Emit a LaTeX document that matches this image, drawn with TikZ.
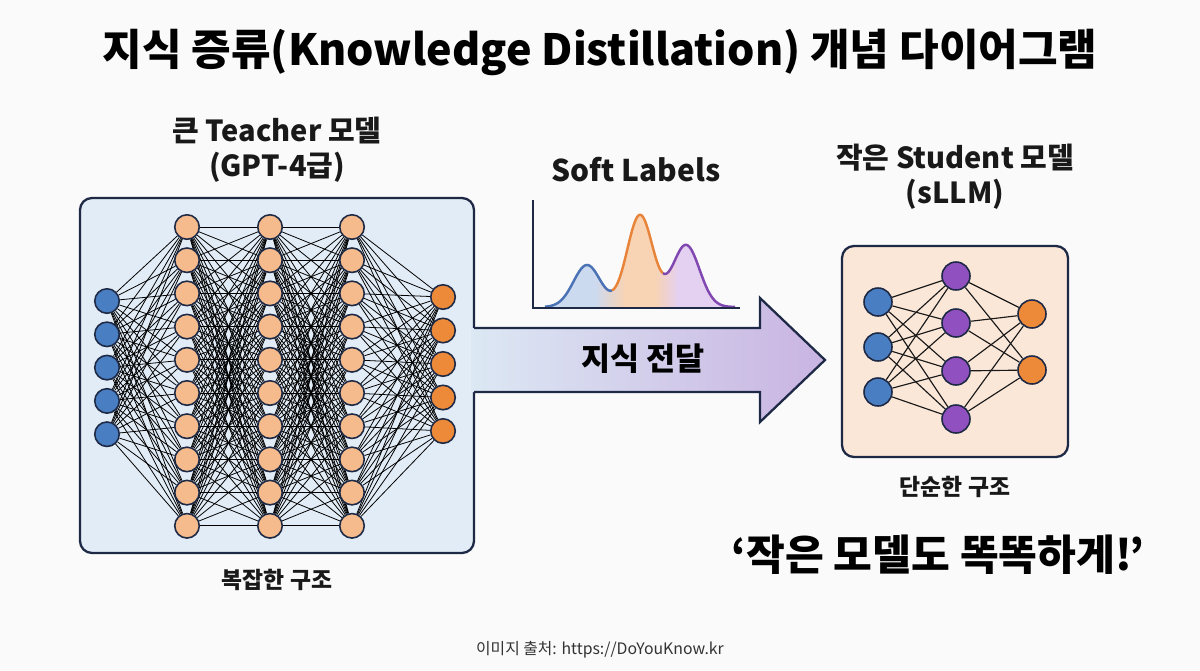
\documentclass[tikz,border=0pt]{standalone}
\usepackage{fontspec}
\setmainfont{Noto Sans CJK KR}
\definecolor{bgc}{HTML}{FAFAFA}
\definecolor{navy}{HTML}{1E2A45}
\definecolor{tbox}{HTML}{E2ECF6}
\definecolor{sbox}{HTML}{FBE7D8}
\definecolor{inblue}{HTML}{4A7EC2}
\definecolor{peach}{HTML}{F5BB8C}
\definecolor{outor}{HTML}{EC8A3A}
\definecolor{purp}{HTML}{9150C0}
\definecolor{arrL}{HTML}{DCE8F4}
\definecolor{arrR}{HTML}{C9B4E2}
\definecolor{sb}{HTML}{CCDAF0}
\definecolor{so}{HTML}{F8D3B4}
\definecolor{sp}{HTML}{E4D0F0}
\definecolor{cb}{HTML}{4A72B4}
\definecolor{co}{HTML}{E8843A}
\definecolor{cp}{HTML}{8048B0}
\pgfdeclarehorizontalshading{softfill}{100bp}{color(0bp)=(sb); color(38bp)=(sb); color(46bp)=(so); color(54bp)=(so); color(60bp)=(sp); color(100bp)=(sp)}
\pgfdeclarelayer{bgl}
\pgfdeclarelayer{edgel}
\pgfsetlayers{bgl,edgel,main}
\tikzset{
  neuron/.style={circle, draw=navy, line width=0.9pt, inner sep=0pt, minimum size=0.49cm},
  sneuron/.style={neuron, minimum size=0.56cm},
  edge/.style={black, line width=0.45pt},
  sedge/.style={black!90, line width=0.65pt},
  panel/.style={draw=navy, line width=1.3pt, rounded corners=0.24cm},
  lbl/.style={font=\fontsize{16.5}{20}\selectfont\bfseries, align=center, text=black!90},
  sub/.style={font=\fontsize{13}{16}\selectfont\bfseries, text=black!90},
  declare function={gs(\x,\m,\s)=exp(-0.5*((\x-\m)/\s)*((\x-\m)/\s));
    sl(\x)=42*gs(\x,587,13.5)+92*gs(\x,640,13)+62*gs(\x,686,13.5);}
}
\begin{document}
\begin{tikzpicture}[x=0.02cm,y=-0.02cm]
\begin{pgfonlayer}{bgl}
\fill[bgc] (0,0) rectangle (1200,670);
\end{pgfonlayer}
\useasboundingbox (0,0) rectangle (1200,670);

% title
\node[font=\fontsize{24.5}{28}\selectfont\bfseries, text=black] (title) at (600,52) {지식 증류(Knowledge Distillation) 개념 다이어그램};

% teacher panel, arrow, student panel
\begin{pgfonlayer}{bgl}
\draw[panel, fill=tbox] (80,198) rectangle (474,553);
\shade[left color=arrL, right color=arrR] (471,328) -- (760,328) -- (760,298) -- (825,360) -- (760,422) -- (760,392) -- (471,392) -- cycle;
\draw[navy, line width=1.3pt, line join=miter] (474,328) -- (760,328) -- (760,298) -- (825,360) -- (760,422) -- (760,392) -- (474,392);
\draw[panel, fill=sbox] (842,246) rectangle (1068,457);
\end{pgfonlayer}
\node[font=\fontsize{18}{21}\selectfont\bfseries, text=black] (transfer) at (643,359) {지식 전달};

\node[lbl] (tlabel) at (277,150) {큰 Teacher 모델\\(GPT-4급)};
\node[sub] (tsub) at (277,580) {복잡한 구조};

\foreach \i in {1,...,5} \node[neuron, fill=inblue] (ti\i) at (107,{301+33.3*(\i-1)}) {};
\foreach \j in {1,...,10} {
  \node[neuron, fill=peach] (ta\j) at (187,{227+33.2*(\j-1)}) {};
  \node[neuron, fill=peach] (tb\j) at (270,{227+33.2*(\j-1)}) {};
  \node[neuron, fill=peach] (tc\j) at (352,{227+33.2*(\j-1)}) {};
}
\foreach \k in {1,...,5} \node[neuron, fill=outor] (to\k) at (443,{297+33.5*(\k-1)}) {};

\begin{pgfonlayer}{edgel}
\foreach \i in {1,...,5} \foreach \j in {1,...,10} {
  \draw[edge] (ti\i) -- (ta\j);
  \draw[edge] (tc\j) -- (to\i);
}
\foreach \i in {1,...,10} \foreach \j in {1,...,10} {
  \draw[edge] (ta\i) -- (tb\j);
  \draw[edge] (tb\i) -- (tc\j);
}
\end{pgfonlayer}

% soft labels
\node[font=\fontsize{17}{20}\selectfont\bfseries, text=black!90] (softtitle) at (636,170) {Soft Labels};
\shade[shading=softfill] (545,307) -- plot[domain=545:735, samples=120] (\x,{307-sl(\x)}) -- (735,307) -- cycle;
\draw[cb, line width=1.4pt] plot[domain=545:612, samples=50] (\x,{307-sl(\x)});
\draw[co, line width=1.4pt] plot[domain=612:663, samples=50] (\x,{307-sl(\x)});
\draw[cp, line width=1.4pt] plot[domain=663:735, samples=50] (\x,{307-sl(\x)});
\draw[navy, line width=1pt] (533,200) -- (533,308) -- (740,308);

% student
\node[lbl] (slabel) at (955,177) {작은 Student 모델\\(sLLM)};
\node[sub] (ssub) at (955,487) {단순한 구조};
\foreach \i/\y in {1/302,2/347,3/392} \node[sneuron, fill=inblue] (si\i) at (878,\y) {};
\foreach \i/\y in {1/276,2/323,3/371,4/419} \node[sneuron, fill=purp] (sh\i) at (956,\y) {};
\foreach \i/\y in {1/314,2/370} \node[sneuron, fill=outor] (so\i) at (1032,\y) {};
\begin{pgfonlayer}{edgel}
\foreach \i in {1,2,3} \foreach \j in {1,...,4} \draw[sedge] (si\i) -- (sh\j);
\foreach \i in {1,...,4} \foreach \j in {1,2} \draw[sedge] (sh\i) -- (so\j);
\end{pgfonlayer}

% slogan and footer
\node[font=\fontsize{24}{28}\selectfont\bfseries, text=black] (slogan) at (938,555) {‘작은 모델도 똑똑하게!’};
\node[font=\fontsize{9}{11}\selectfont, text=black!80] (credit) at (600,650) {이미지 출처: https://DoYouKnow.kr};
\end{tikzpicture}
\end{document}
